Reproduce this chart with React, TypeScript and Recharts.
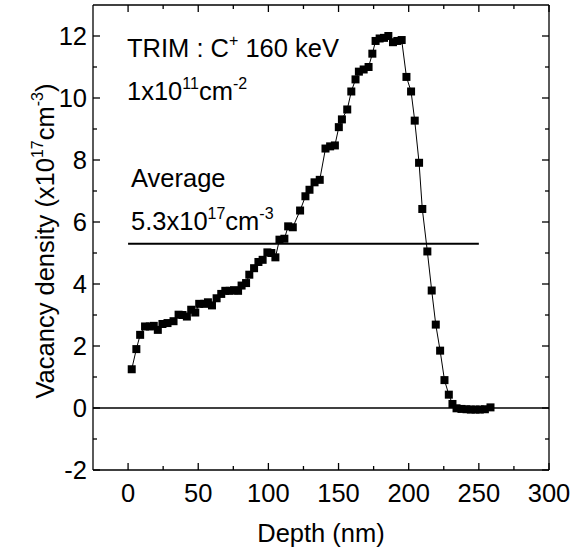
import React from "react";
import { LineChart, Line, XAxis, YAxis, ReferenceLine } from "recharts";

// TRIM vacancy profile, C+ 160 keV, 1e11 cm^-2
const depthNm = [
  2.6, 5.9, 8.6, 12.1, 15.5, 18.3, 21.2, 24.5, 28.1, 32.4,
  36.0, 38.8, 41.9, 45.0, 47.9, 50.7, 54.3, 56.9, 59.8, 63.1,
  66.4, 69.3, 72.4, 75.5, 78.4, 80.9, 84.1, 86.4, 89.8, 92.9,
  95.9, 99.3, 102.1, 105.0, 107.9, 111.4, 114.1, 117.4, 122.6, 126.4,
  129.3, 132.9, 136.6, 140.7, 144.0, 147.4, 150.2, 152.4, 156.2, 159.1,
  162.1, 164.5, 167.9, 171.4, 174.1, 176.4, 179.3, 182.4, 185.5, 188.8,
  191.9, 195.0, 198.4, 201.7, 204.3, 207.4, 209.7, 213.3, 216.4, 219.3,
  222.4, 225.5, 228.6, 231.2, 234.1, 237.6, 241.2, 244.3, 247.6, 250.7,
  254.3, 258.3,
];
const vacancy = [
  1.25, 1.9, 2.36, 2.63, 2.63, 2.65, 2.52, 2.71, 2.74, 2.8,
  3.01, 3.0, 2.95, 3.17, 3.08, 3.36, 3.36, 3.41, 3.31, 3.54,
  3.68, 3.78, 3.78, 3.8, 3.78, 3.95, 4.03, 4.3, 4.51, 4.71,
  4.78, 5.02, 5.0, 4.86, 5.43, 5.46, 5.86, 5.83, 6.37, 6.83,
  7.04, 7.28, 7.36, 8.37, 8.44, 8.47, 9.06, 9.31, 9.63, 10.21,
  10.6, 10.85, 10.92, 11.0, 11.43, 11.84, 11.92, 11.94, 12.0, 11.8,
  11.84, 11.87, 10.68, 10.21, 9.27, 7.91, 6.42, 5.05, 3.79, 2.69,
  1.85, 0.9, 0.43, 0.13, -0.01, -0.03, -0.04, -0.05, -0.05, -0.05,
  -0.04, 0.02,
];
const xTicks = [0, 25, 50, 75, 100, 125, 150, 175, 200, 225, 250, 275, 300];
const yTicks = [-2, -1, 0, 1, 2, 3, 4, 5, 6, 7, 8, 9, 10, 11, 12];
const xDomain = [-25, 300];
const yDomain = [-2, 13];
const averageValue = 5.3;
const averageRange = [0, 250];

const data = depthNm.map((d, i) => ({ d, v: vacancy[i] }));

const FONT = "'Liberation Sans', Arial, sans-serif";
const FS = 25.5;
const SUP = 16;

const isMajorX = (v: number) => v % 50 === 0;
const isMajorY = (v: number) => v % 2 === 0;

const BottomTick = (props: any) => {
  const { x, y, payload } = props;
  const major = isMajorX(payload.value);
  return (
    <g>
      <line x1={x} x2={x} y1={y} y2={y - (major ? 7 : 4)} stroke="#000" strokeWidth={1.3} />
      {major && (
        <text x={x} y={y + 32} textAnchor="middle" fontSize={FS} fontFamily={FONT} fill="#000">
          {payload.value}
        </text>
      )}
    </g>
  );
};

const TopTick = (props: any) => {
  const { x, y, payload } = props;
  const major = isMajorX(payload.value);
  return <line x1={x} x2={x} y1={y} y2={y + (major ? 7 : 4)} stroke="#000" strokeWidth={1.3} />;
};

const LeftTick = (props: any) => {
  const { x, y, payload } = props;
  const major = isMajorY(payload.value);
  return (
    <g>
      <line x1={x} x2={x + (major ? 7 : 4)} y1={y} y2={y} stroke="#000" strokeWidth={1.3} />
      {major && (
        <text x={x - 6} y={y + 9} textAnchor="end" fontSize={FS} fontFamily={FONT} fill="#000">
          {payload.value}
        </text>
      )}
    </g>
  );
};

const RightTick = (props: any) => {
  const { x, y, payload } = props;
  const major = isMajorY(payload.value);
  return <line x1={x} x2={x - (major ? 7 : 4)} y1={y} y2={y} stroke="#000" strokeWidth={1.3} />;
};

const SquareDot = (props: any) => {
  const { cx, cy, index } = props;
  return <rect key={index} x={cx - 4} y={cy - 4} width={8} height={8} fill="#000" />;
};

const axisLine = { stroke: "#000", strokeWidth: 1.3 };

export default function App() {
  return (
    <div style={{ position: "absolute", left: 0, top: 0, width: 570, height: 554, background: "#fff" }}>
      <LineChart
        width={570}
        height={554}
        data={data}
        margin={{ top: 4, right: 20, bottom: 0, left: 0 }}
      >
        <XAxis
          dataKey="d"
          type="number"
          domain={xDomain}
          ticks={xTicks}
          interval={0}
          allowDataOverflow
          axisLine={axisLine}
          tickLine={false}
          tickSize={0}
          tickMargin={0}
          tick={<BottomTick />}
          height={84}
        />
        <XAxis
          xAxisId="t"
          orientation="top"
          dataKey="d"
          type="number"
          domain={xDomain}
          ticks={xTicks}
          interval={0}
          allowDataOverflow
          axisLine={axisLine}
          tickLine={false}
          tickSize={0}
          tickMargin={0}
          tick={<TopTick />}
          height={1}
        />
        <YAxis
          dataKey="v"
          type="number"
          domain={yDomain}
          ticks={yTicks}
          interval={0}
          allowDataOverflow
          axisLine={axisLine}
          tickLine={false}
          tickSize={0}
          tickMargin={0}
          tick={<LeftTick />}
          width={93}
        />
        <YAxis
          yAxisId="r"
          orientation="right"
          dataKey="v"
          type="number"
          domain={yDomain}
          ticks={yTicks}
          interval={0}
          allowDataOverflow
          axisLine={axisLine}
          tickLine={false}
          tickSize={0}
          tickMargin={0}
          tick={<RightTick />}
          width={1}
        />
        <ReferenceLine y={0} stroke="#000" strokeWidth={1.3} />
        <ReferenceLine
          segment={[
            { x: averageRange[0], y: averageValue },
            { x: averageRange[1], y: averageValue },
          ]}
          stroke="#000"
          strokeWidth={2}
        />
        {/* invisible series so the mirrored top/right axes are bound and drawn */}
        <Line
          xAxisId="t"
          yAxisId="r"
          dataKey="v"
          stroke="none"
          dot={false}
          activeDot={false}
          isAnimationActive={false}
        />
        <Line
          dataKey="v"
          stroke="#000"
          strokeWidth={1}
          dot={<SquareDot />}
          isAnimationActive={false}
        />
      </LineChart>
      <svg
        width={570}
        height={554}
        style={{ position: "absolute", left: 0, top: 0, pointerEvents: "none" }}
        fontFamily={FONT}
        fill="#000"
      >
        <text x={127} y={57} fontSize={FS}>
          TRIM : C<tspan dy={-11} fontSize={SUP}>+</tspan>
          <tspan dy={11}> 160 keV</tspan>
        </text>
        <text x={127} y={100} fontSize={FS}>
          1x10<tspan dy={-11} fontSize={SUP}>11</tspan>
          <tspan dy={11}>cm</tspan>
          <tspan dy={-11} fontSize={SUP}>-2</tspan>
        </text>
        <text x={131} y={187} fontSize={FS}>Average</text>
        <text x={131} y={230} fontSize={FS}>
          5.3x10<tspan dy={-11} fontSize={SUP}>17</tspan>
          <tspan dy={11}>cm</tspan>
          <tspan dy={-11} fontSize={SUP}>-3</tspan>
        </text>
        <text x={321} y={542} fontSize={FS} textAnchor="middle">Depth (nm)</text>
        <text transform="translate(54,241) rotate(-90)" fontSize={FS} textAnchor="middle">
          Vacancy density (x10<tspan dy={-11} fontSize={SUP}>17</tspan>
          <tspan dy={11}>cm</tspan>
          <tspan dy={-11} fontSize={SUP}>-3</tspan>
          <tspan dy={11}>)</tspan>
        </text>
      </svg>
    </div>
  );
}
